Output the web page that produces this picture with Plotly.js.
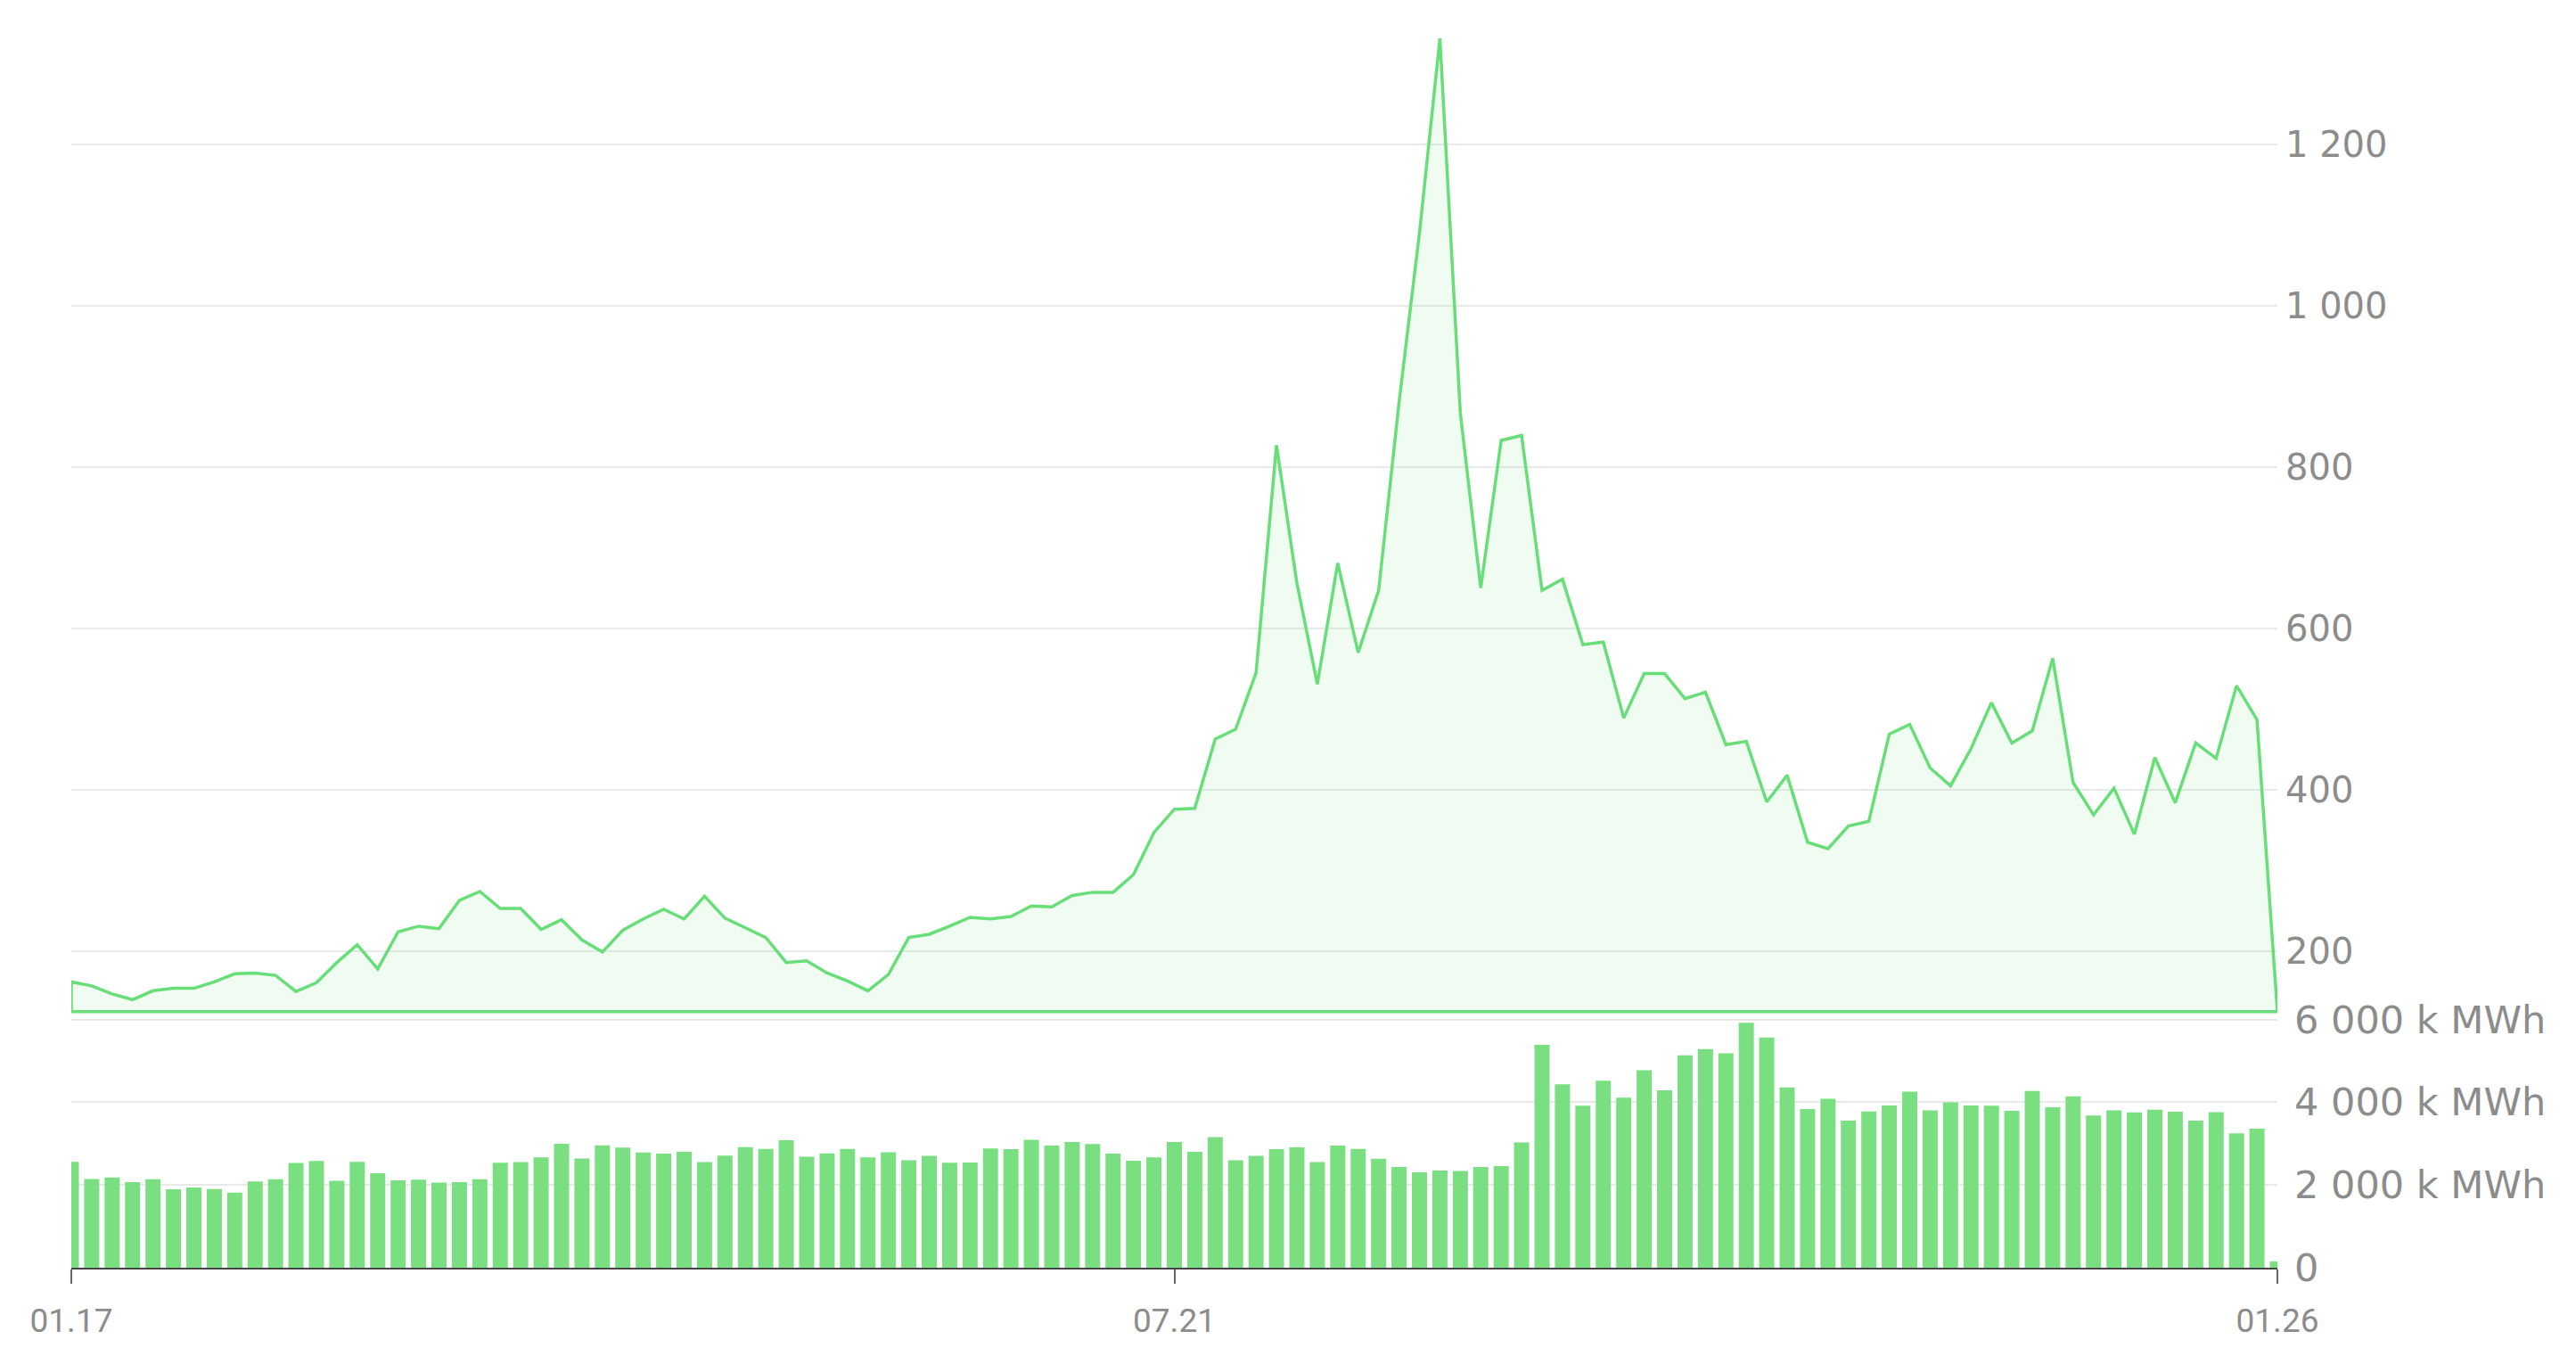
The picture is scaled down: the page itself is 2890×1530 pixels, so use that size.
<!DOCTYPE html>
<html>
<head>
<meta charset="utf-8">
<script src="https://cdn.plot.ly/plotly-3.0.1.min.js"></script>
<style>
  html, body { margin: 0; padding: 0; background: #fff; }
  #plot { width: 2890px; height: 1530px; }
</style>
</head>
<body>
<div id="plot"></div>
<script>
// monthly price (line, top panel), Jan 2017 .. Jan 2026
const price = [
    162, 157, 147, 140, 151, 154, 154, 162, 172, 173, 170, 150,
    161, 186, 208, 178, 224, 231, 228, 263, 274, 253, 253, 227,
    239, 214, 199, 226, 240, 252, 240, 268, 241, 229, 217, 186,
    188, 173, 163, 151, 171, 217, 221, 231, 242, 240, 243, 256,
    255, 269, 273, 273, 295, 347, 376, 377, 463, 475, 545, 827,
    656, 531, 681, 570, 647, 880, 1090, 1331, 867, 650, 833, 839,
    647, 661, 580, 583, 489, 544, 544, 513, 521, 456, 460, 385,
    418, 335, 327, 355, 361, 469, 481, 427, 405, 451, 508, 458,
    473, 563, 409, 369, 402, 345, 440, 384, 458, 439, 529, 487,
    125
];

// monthly volume in k MWh (bars, bottom panel)
const volume = [
    2560, 2143, 2180, 2070, 2136, 1895, 1939, 1903, 1815, 2085, 2136, 2530,
    2581, 2100, 2559, 2282, 2114, 2129, 2056, 2070, 2136, 2537, 2552, 2668,
    2996, 2639, 2960, 2901, 2785, 2756, 2799, 2552, 2712, 2916, 2872, 3084,
    2683, 2763, 2872, 2668, 2792, 2595, 2705, 2537, 2544, 2880, 2865, 3091,
    2952, 3040, 2989, 2756, 2588, 2668, 3040, 2799, 3157, 2595, 2705, 2865,
    2909, 2552, 2952, 2872, 2632, 2435, 2304, 2347, 2340, 2435, 2457, 3025,
    5387, 4432, 3915, 4520, 4112, 4775, 4287, 5132, 5285, 5183, 5919, 5562,
    4359, 3835, 4082, 3558, 3776, 3922, 4257, 3805, 3995, 3922, 3915, 3791,
    4272, 3878, 4141, 3681, 3805, 3754, 3820, 3769, 3558, 3762, 3251, 3361,
    153
];

// x ticks
const xTickVals = ['01.17', '07.21', '01.26'];

// volume axis ticks
const volTickVals = [0, 2000, 4000, 6000];
const volTickText = ['0', '2 000 k MWh', '4 000 k MWh', '6 000 k MWh'];

// month labels MM.YY starting Jan 2017
const startYear = 2017;
const months = [];
for (let i = 0; i < price.length; i++) {
    const m = i % 12 + 1;
    const y = startYear + Math.floor(i / 12);
    months.push(String(m).padStart(2, '0') + '.' + String(y % 100).padStart(2, '0'));
}

const lineColor = 'rgb(104, 222, 121)';
const barColor = 'rgb(122, 223, 128)';
const labelColor = '#8c8c8c';
const gridColor = '#e9e9e9';

// closed area: baseline -> data -> baseline
const base = Math.min(...price);
const areaX = [months[0]].concat(months, [months[0]]);
const areaY = [base].concat(price, [base]);

const data = [
    {
        x: areaX,
        y: areaY,
        type: 'scatter',
        mode: 'lines',
        line: { color: lineColor, width: 3.5 },
        fill: 'toself',
        fillcolor: 'rgba(108, 221, 124, 0.1)',
        cliponaxis: false,
        hoverinfo: 'skip',
        xaxis: 'x',
        yaxis: 'y'
    },
    {
        x: months,
        y: volume,
        type: 'bar',
        marker: { color: barColor, line: { width: 0 } },
        cliponaxis: false,
        xaxis: 'x',
        yaxis: 'y2'
    }
];

const layout = {
    width: 2890,
    height: 1530,
    margin: { l: 80, r: 335, t: 35, b: 108 },
    paper_bgcolor: '#ffffff',
    plot_bgcolor: '#ffffff',
    showlegend: false,
    separators: '. ',
    bargap: 0.26,
    xaxis: {
        type: 'category',
        categoryorder: 'array',
        categoryarray: months,
        range: [0, months.length - 1],
        anchor: 'y2',
        tickmode: 'array',
        tickvals: xTickVals,
        ticktext: xTickVals,
        ticks: 'outside',
        ticklen: 16,
        tickwidth: 2,
        tickcolor: '#666',
        showline: true,
        linecolor: '#444',
        linewidth: 2,
        showgrid: false,
        zeroline: false,
        ticklabelstandoff: 10,
        tickfont: { family: 'Roboto', size: 37, color: labelColor }
    },
    yaxis: {
        domain: [0.2048, 1],
        range: [121.6, 1340],
        side: 'right',
        anchor: 'x',
        tick0: 0,
        dtick: 200,
        separatethousands: true,
        showgrid: true,
        gridcolor: gridColor,
        gridwidth: 2,
        zeroline: false,
        showline: false,
        ticks: '',
        ticklabelstandoff: 8,
        tickfont: { family: 'DejaVu Sans', size: 40, color: labelColor }
    },
    yaxis2: {
        domain: [0, 0.2021],
        range: [0, 6040],
        side: 'right',
        anchor: 'x',
        tickmode: 'array',
        tickvals: volTickVals,
        ticktext: volTickText,
        showgrid: true,
        gridcolor: gridColor,
        gridwidth: 2,
        zeroline: false,
        showline: false,
        ticks: '',
        ticklabelstandoff: 18,
        tickfont: { family: 'DejaVu Sans', size: 43, color: labelColor }
    }
};

Plotly.newPlot('plot', data, layout, { displayModeBar: false, staticPlot: true });
</script>
</body>
</html>
